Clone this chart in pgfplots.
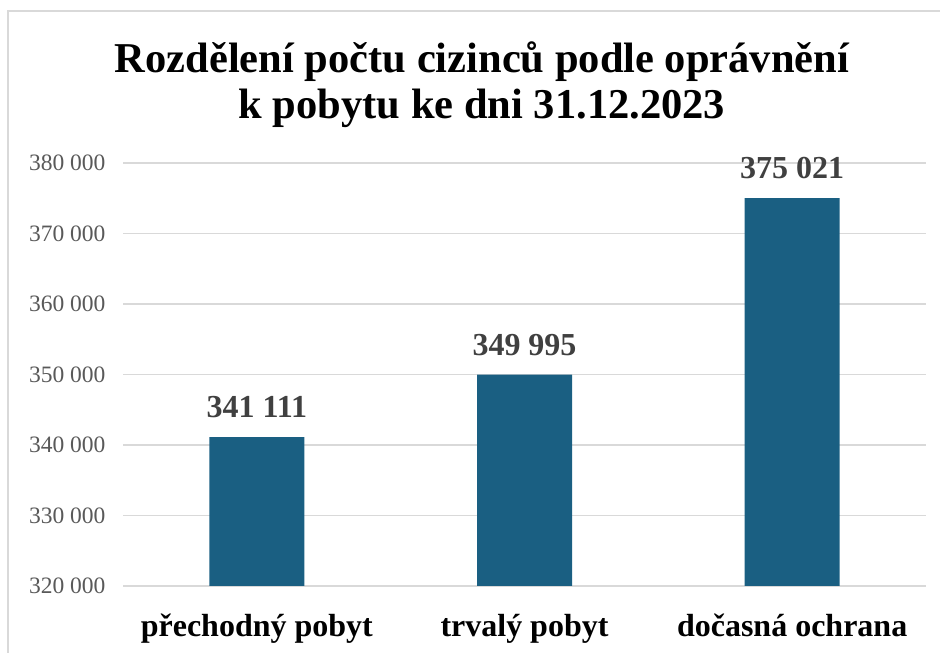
\documentclass[border=0pt]{standalone}
\usepackage{fontspec}
\setmainfont{Liberation Serif}[BoldFont={Liberation Serif Bold}]
\usepackage{pgfplots}
\pgfplotsset{compat=1.18}
\definecolor{barblue}{HTML}{1A5F82}
\definecolor{gridgray}{HTML}{D9D9D9}
\definecolor{tickgray}{HTML}{595959}
\definecolor{valgray}{HTML}{404040}
\begin{document}
\begin{tikzpicture}[x=1pt,y=1pt]
\path[use as bounding box] (0,0) rectangle (940,653);
\draw[gridgray, line width=1.5pt] (8,0) -- (8,642) -- (940,642);
\node[align=center, font=\fontsize{42.5}{46}\selectfont\bfseries] at (482,568)
  {Rozdělení počtu cizinců podle oprávnění\\k pobytu ke dni 31.12.2023};
\begin{axis}[
  at={(123pt,67pt)}, anchor=south west,
  scale only axis, width=803pt, height=423pt,
  ybar, bar width=95pt,
  xmin=-0.5, xmax=2.5, ymin=320000, ymax=380000,
  scaled y ticks=false,
  ytick={320000,330000,340000,350000,360000,370000,380000},
  yticklabels={320 000,330 000,340 000,350 000,360 000,370 000,380 000},
  xtick=data,
  xticklabels={přechodný pobyt, trvalý pobyt, dočasná ochrana},
  axis line style={draw=none}, tick style={draw=none},
  ymajorgrids, grid style={gridgray, line width=1.2pt},
  yticklabel style={font=\fontsize{23.5}{23.5}\selectfont, text=tickgray, xshift=-14pt},
  xticklabel style={font=\fontsize{32}{32}\selectfont\bfseries, text=black, yshift=-20pt},
  point meta=explicit symbolic,
  nodes near coords,
  every node near coord/.append style={font=\fontsize{32}{32}\selectfont\bfseries, text=valgray, inner sep=0pt, yshift=19pt},
]
\addplot[fill=barblue, draw=none] coordinates {(0,341111) [341 111] (1,349995) [349 995] (2,375021) [375 021]};
\end{axis}
\end{tikzpicture}
\end{document}
